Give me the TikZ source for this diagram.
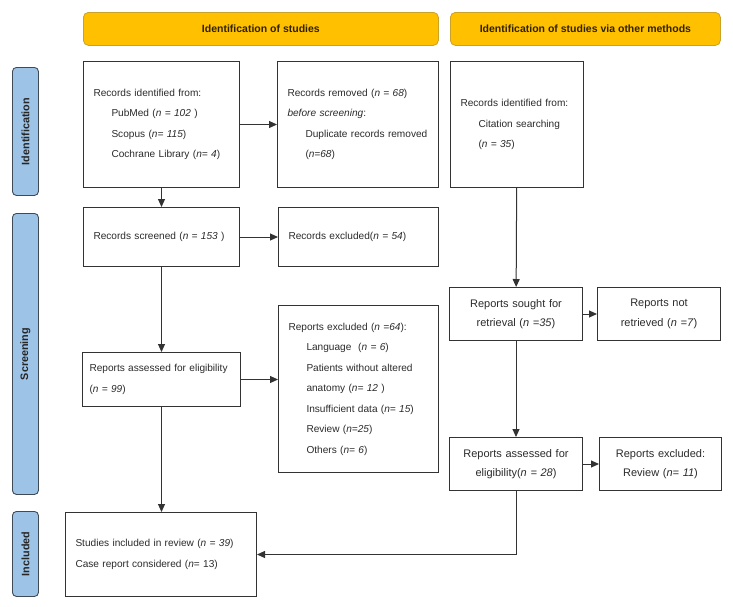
\documentclass[tikz,border=0pt]{standalone}
\usepackage{fontspec}
\setmainfont{Liberation Sans}
\usetikzlibrary{positioning,arrows.meta}

\definecolor{barorange}{HTML}{FFC000}
\definecolor{barline}{HTML}{C9A227}
\definecolor{sideblue}{HTML}{9DC3E6}
\definecolor{sideline}{HTML}{3F4A57}
\definecolor{boxline}{HTML}{333333}
\definecolor{bodytext}{HTML}{2B2B2B}
\definecolor{headtext}{HTML}{2E2200}

\newcommand{\boxfont}{\fontsize{10.1}{20.5}\selectfont\hyphenpenalty=10000\relax}
\newcommand{\ind}{\hspace*{18pt}}

\tikzset{
  stage box/.style={draw=boxline, line width=1pt, fill=white, anchor=north west,
    inner xsep=10pt, inner ysep=3pt, align=left, text=bodytext, font=\boxfont},
  centre box/.style={stage box, inner xsep=4pt, align=center, font=\fontsize{11}{19.5}\selectfont},
  head bar/.style={draw=barline, line width=0.8pt, fill=barorange, rounded corners=5pt,
    anchor=north west, minimum height=33pt, text=headtext, font=\fontsize{10.5}{12}\selectfont\bfseries},
  side label/.style={draw=sideline, line width=0.9pt, fill=sideblue, rounded corners=4pt,
    anchor=north west, rotate=90, text=black!85, font=\fontsize{10.8}{12}\selectfont\bfseries},
  flow/.style={draw=boxline, line width=1pt, -{Triangle[length=8pt,width=7pt]}}
}

\begin{document}
\begin{tikzpicture}[x=1pt, y=-1pt]
\useasboundingbox (0,0) rectangle (733,606);

% Draw header bars
\node [head bar, minimum width=355pt] (head-1) at (83,12) {Identification of studies};
\node [head bar, minimum width=270pt] (head-2) at (450,12) {Identification of studies via other methods};

% Draw side labels
\foreach \l/\y/\h [count=\i] in {Identification/67/128, Screening/213/281, Included/511/85}
  \node [side label, minimum width=\h pt, minimum height=26pt, anchor=north east]
    (side-\i) at (12,\y) {\l};

% Databases column
\node [stage box, text width=136pt, minimum height=126pt] (ident-db) at (83,61)
  {Records identified from:\\
   \ind PubMed (\textit{n = 102} )\\
   \ind Scopus (\textit{n= 115})\\
   \ind Cochrane Library (\textit{n= 4})};
\node [stage box, text width=141pt, minimum height=126pt] (removed) at (277,61)
  {Records removed (\textit{n = 68})\\
   \textit{before screening}:\\
   \ind Duplicate records removed\\
   \ind (\textit{n=68})};
\node [stage box, text width=136pt, minimum height=59pt] (screened) at (83,207)
  {Records screened (\textit{n = 153} )};
\node [stage box, text width=140pt, minimum height=59pt] (excluded) at (278,207)
  {Records excluded(\textit{n = 54})};
\node [stage box, inner xsep=7pt, text width=144pt, minimum height=54pt] (assessed) at (82,352)
  {Reports assessed for eligibility\\
   (\textit{n = 99})};
\node [stage box, text width=140pt, minimum height=167pt] (rep-excl) at (278,305)
  {Reports excluded (\textit{n =64}):\\
   \ind Language \ (\textit{n = 6})\\
   \ind Patients without altered\\
   \ind anatomy (\textit{n= 12} )\\
   \ind Insufficient data (\textit{n= 15})\\
   \ind Review (\textit{n=25})\\
   \ind Others (\textit{n= 6})};
\node [stage box, text width=171pt, minimum height=84pt] (included) at (65,512)
  {Studies included in review (\textit{n = 39})\\
   Case report considered (\textit{n}= 13)};

% Other methods column
\node [stage box, text width=113pt, minimum height=126pt] (ident-oth) at (450,61)
  {Records identified from:\\
   \ind Citation searching\\
   \ind (\textit{n = 35})};
\node [centre box, text width=125pt, minimum height=53pt] (sought) at (449,287)
  {Reports sought for\\ retrieval (\textit{n =35})};
\node [centre box, text width=115pt, minimum height=53pt] (not-retr) at (597,287)
  {Reports not\\ retrieved (\textit{n =7})};
\node [centre box, text width=125pt, minimum height=53pt] (assessed-oth) at (449,437)
  {Reports assessed for\\ eligibility(\textit{n = 28})};
\node [centre box, text width=114pt, minimum height=53pt] (excl-oth) at (599,437)
  {Reports excluded:\\ Review (\textit{n= 11})};

% Connect the boxes
\draw [flow] (ident-db) -- (removed);
\draw [flow] (ident-db) -- (screened);
\draw [flow] (screened) -- (excluded);
\draw [flow] (screened) -- (assessed);
\draw [flow] (assessed.east) -- (assessed.east -| rep-excl.west);
\draw [flow] (assessed.south) -- (assessed.south |- included.north);
\draw [flow] (ident-oth) -- (sought);
\draw [flow] (sought) -- (not-retr);
\draw [flow] (sought) -- (assessed-oth);
\draw [flow] (assessed-oth) -- (excl-oth);
\draw [flow] (assessed-oth.south) |- (included.east);
\end{tikzpicture}
\end{document}
